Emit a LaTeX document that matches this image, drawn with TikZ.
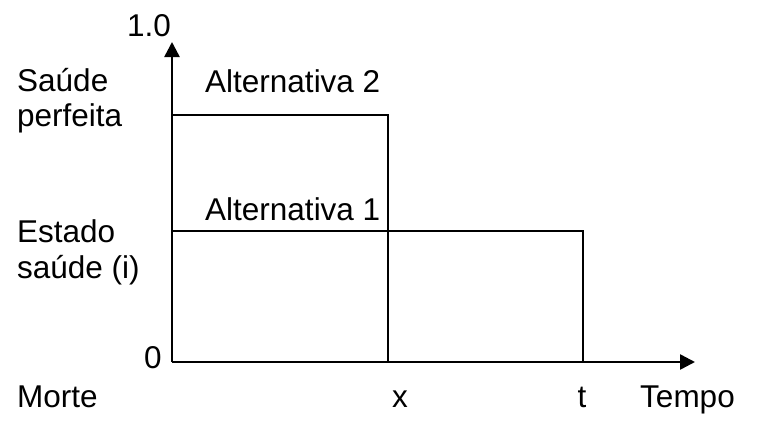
\documentclass[tikz,border=0pt]{standalone}
\usepackage{fontspec}
\setmainfont{Liberation Sans}
\usetikzlibrary{arrows.meta,positioning}
\definecolor{Ink}{RGB}{0,0,0}
\tikzset{
  >=Latex,
  axis/.style={-{Triangle[length=15pt,width=15pt]},line width=2.5pt,draw=Ink},
  bar/.style={line width=2.5pt,draw=Ink},
  lbl/.style={font=\fontsize{31.5}{36}\selectfont,text=Ink,inner sep=0pt,anchor=base west,align=left},
  tick/.style={font=\fontsize{31.5}{36}\selectfont,text=Ink,inner sep=0pt,anchor=base}
}
\begin{document}
\begin{tikzpicture}[x=1pt,y=-1pt]
  \useasboundingbox (0,0) rectangle (767,431);
  % axes
  \coordinate (origin) at (172,362);
  \coordinate (ytip) at (172,42);
  \coordinate (xtip) at (695,362);
  \draw[axis] (origin)--(ytip);
  \draw[axis] (origin)--(xtip);
  % alternative 2: perfect health until x
  \coordinate (a2l) at (172,115);
  \coordinate (a2r) at (388,115);
  \coordinate (xend) at (388,362);
  \draw[bar] (a2l)--(a2r)--(xend);
  % alternative 1: state i until t
  \coordinate (a1l) at (172,231);
  \coordinate (a1r) at (583,231);
  \coordinate (tend) at (583,362);
  \draw[bar] (a1l)--(a1r)--(tend);
  % labels
  \node[lbl] (alt2) at (205,92) {Alternativa 2};
  \node[lbl] (alt1) at (205,220) {Alternativa 1};
  \node[lbl] (perf) at (17,91) {Saúde};
  \node[lbl] (perf2) at (17,126) {perfeita};
  \node[lbl] (est) at (17,242) {Estado};
  \node[lbl] (est2) at (17,278) {saúde (i)};
  \node[lbl] (morte) at (17,407) {Morte};
  \node[lbl] (tempo) at (640,407) {Tempo};
  \node[tick] (one) at (149,36) {1.0};
  \node[tick] (zero) at (153,368) {0};
  \node[tick] (xlbl) at (400,407) {x};
  \node[tick] (tlbl) at (582,407) {t};
\end{tikzpicture}
\end{document}
